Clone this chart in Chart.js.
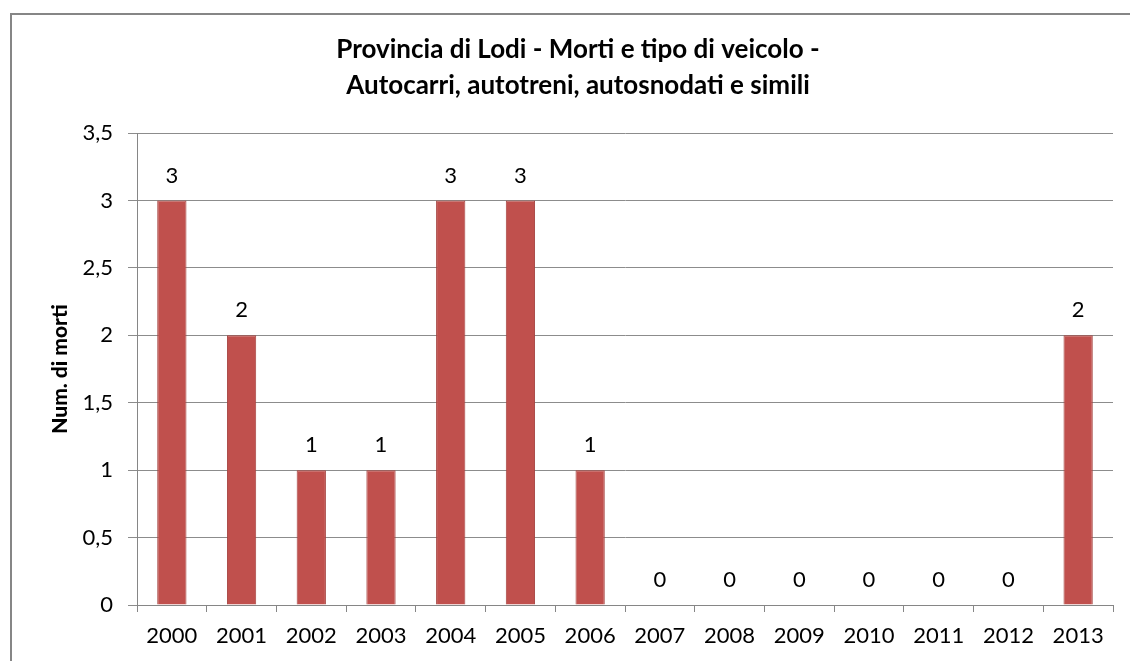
<!DOCTYPE html>
<html>
<head>
<meta charset="utf-8">
<script src="https://cdn.jsdelivr.net/npm/chart.js@4/dist/chart.umd.min.js"></script>
<style>
  html, body { margin: 0; padding: 0; background: #fff; overflow: hidden; }
  #wrap { width: 1130px; height: 661px; position: relative; }
</style>
</head>
<body>
<div id="wrap"><canvas id="monthChart" width="1130" height="661"></canvas></div>
<script>
/* Chart data */
let years = ['2000', '2001', '2002', '2003', '2004', '2005', '2006', '2007', '2008', '2009', '2010', '2011', '2012', '2013'];
let deaths = [3, 2, 1, 1, 3, 3, 1, 0, 0, 0, 0, 0, 0, 2];
let titleLines = ['Provincia di Lodi - Morti e tipo di veicolo -', 'Autocarri, autotreni, autosnodati e simili'];
let yTitle = 'Num. di morti';

let fontName = 'Lato, "Open Sans", sans-serif';

// outer frame like the spreadsheet chart box (only top and left edges are in view)
let framePlugin = {
    id: 'frame',
    beforeDraw: function (chart) {
        let ctx = chart.ctx;
        ctx.save();
        ctx.fillStyle = '#ffffff';
        ctx.fillRect(0, 0, chart.width, chart.height);
        ctx.strokeStyle = '#868686';
        ctx.lineWidth = 2;
        ctx.beginPath();
        ctx.moveTo(11, chart.height + 5);
        ctx.lineTo(11, 14);
        ctx.lineTo(chart.width + 5, 14);
        ctx.stroke();
        ctx.restore();
    }
};

// value labels above each bar
let labelPlugin = {
    id: 'barLabels',
    afterDatasetsDraw: function (chart) {
        let ctx = chart.ctx;
        let meta = chart.getDatasetMeta(0);
        ctx.save();
        ctx.font = '22px ' + fontName;
        ctx.fillStyle = '#000000';
        ctx.textAlign = 'center';
        ctx.textBaseline = 'middle';
        meta.data.forEach(function (bar, i) {
            ctx.fillText(String(deaths[i]), bar.x, bar.y - 25);
        });
        ctx.restore();
    }
};

let ctx = document.getElementById('monthChart').getContext('2d');

let graphic = new Chart(ctx, {
    type: 'bar',
    data: {
        labels: years,
        datasets: [
            {
                label: 'Morti',
                data: deaths,
                backgroundColor: '#C0504D',
                borderColor: '#A5423F',
                borderWidth: 1,
                categoryPercentage: 1,
                barPercentage: 0.42
            }
        ]
    },
    options: {
        responsive: false,
        animation: false,
        layout: {
            padding: { left: 43, right: 17, top: 32, bottom: 8 }
        },
        plugins: {
            legend: { display: false },
            tooltip: { enabled: false },
            title: {
                display: true,
                text: titleLines,
                color: '#000000',
                font: { family: fontName, size: 26, weight: 'bold', lineHeight: 1.385 },
                padding: { top: 0, bottom: 29 }
            }
        },
        scales: {
            x: {
                grid: {
                    display: true,
                    drawOnChartArea: false,
                    drawTicks: true,
                    tickLength: 7,
                    color: '#868686',
                    offset: true
                },
                border: { display: true, color: '#868686' },
                ticks: {
                    color: '#000000',
                    font: { family: fontName, size: 22 },
                    padding: 11,
                    maxRotation: 0
                },
                afterFit: function (scale) {
                    scale.height = 48;
                }
            },
            y: {
                min: 0,
                max: 3.5,
                grid: {
                    color: '#8c8c8c',
                    tickLength: 9
                },
                border: { display: true, color: '#868686' },
                ticks: {
                    stepSize: 0.5,
                    color: '#000000',
                    font: { family: fontName, size: 22 },
                    padding: 15,
                    callback: function (value) {
                        return String(value).replace('.', ',');
                    }
                },
                title: {
                    display: true,
                    text: yTitle,
                    color: '#000000',
                    font: { family: fontName, size: 21, weight: '900' },
                    padding: { top: 5, bottom: 0 }
                },
                afterFit: function (scale) {
                    scale.width = 94;
                }
            }
        }
    },
    plugins: [framePlugin, labelPlugin]
});
</script>
</body>
</html>
